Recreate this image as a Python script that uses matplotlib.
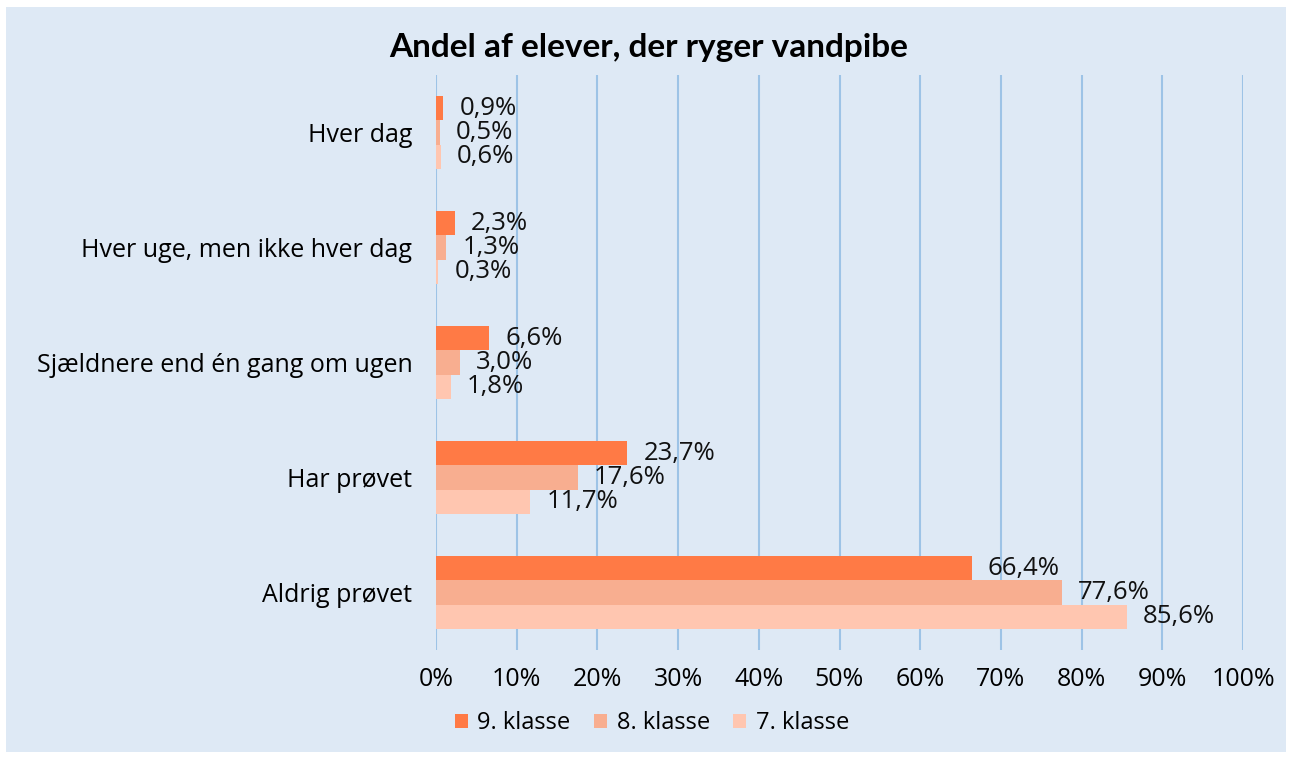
import matplotlib.pyplot as plt
import numpy as np
from matplotlib.patches import Rectangle

# Data
categories = ["Aldrig prøvet", "Har prøvet", "Sjældnere end én gang om ugen",
              "Hver uge, men ikke hver dag", "Hver dag"]
klasse_9 = [66.4, 23.7, 6.6, 2.3, 0.9]
klasse_8 = [77.6, 17.6, 3.0, 1.3, 0.5]
klasse_7 = [85.6, 11.7, 1.8, 0.3, 0.6]
series_names = ["9. klasse", "8. klasse", "7. klasse"]
colors = ["#FF7A45", "#F8AE90", "#FFC6B0"]

plt.rcParams['font.family'] = ['Open Sans', 'DejaVu Sans']
bg = "#DEE9F5"
fs = 18

fig = plt.figure(figsize=(12.92, 7.58), dpi=100, facecolor="white")
fig.patches.append(Rectangle((6 / 1292, 6 / 758), 1280 / 1292, 745 / 758,
                             transform=fig.transFigure, facecolor=bg,
                             edgecolor="none", zorder=-10))
ax = fig.add_axes([436 / 1292, 108 / 758, (1243 - 436) / 1292, (650 - 75) / 758])
ax.patch.set_alpha(0)

y = np.arange(len(categories))
h = 0.21
offsets = [h, 0, -h]
for vals, name, col, off in zip([klasse_9, klasse_8, klasse_7], series_names, colors, offsets):
    ax.barh(y + off, vals, height=h, color=col, label=name, zorder=3)
    for yi, v in zip(y, vals):
        ax.annotate(f"{v:.1f}%".replace(".", ","), (v, yi + off),
                    xytext=(16, 0), textcoords="offset pixels",
                    va="center", ha="left", fontsize=18.5, color="#111111", zorder=4)

ax.set_xlim(0, 100)
ax.set_ylim(-0.5, 4.5)
ax.set_xticks(np.arange(0, 101, 10))
ax.set_xticklabels([f"{t}%" for t in range(0, 101, 10)], fontsize=fs)
ax.set_yticks(y)
ax.set_yticklabels(categories, fontsize=fs)
ax.tick_params(length=0, pad=17)
ax.tick_params(axis="x", pad=12)
ax.xaxis.grid(True, color="#9DC3E6", linewidth=1.5, zorder=0)
ax.set_axisbelow(True)
for s in ax.spines.values():
    s.set_visible(False)

fig.text(649 / 1292, 1 - 47 / 758, "Andel af elever, der ryger vandpibe",
         ha="center", va="center", fontsize=24, fontweight="bold",
         family=['Lato', 'DejaVu Sans'])

fig.legend(loc="center", bbox_to_anchor=(652 / 1292, 1 - 723 / 758), ncol=3,
           frameon=False, fontsize=17, handlelength=0.55, handleheight=0.55,
           handletextpad=0.4, columnspacing=1.0)

fig.savefig("out.png", dpi=100, facecolor=fig.get_facecolor())
